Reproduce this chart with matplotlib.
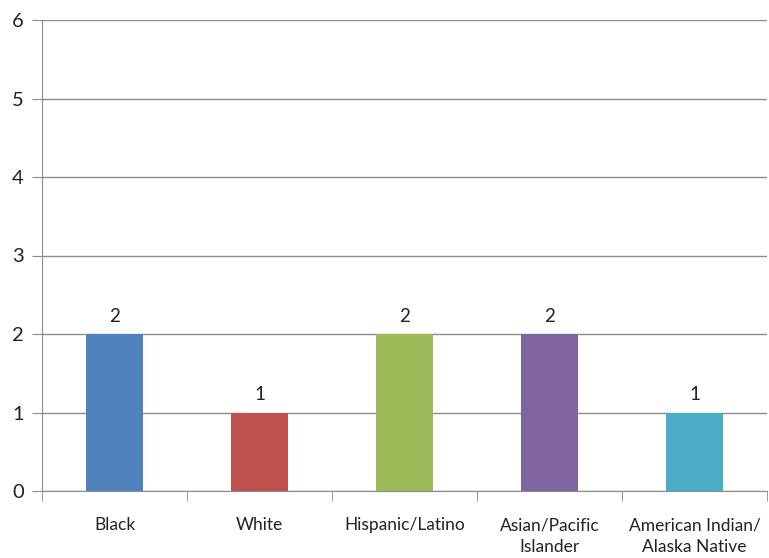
import matplotlib.pyplot as plt
import numpy as np

categories = ["Black", "White", "Hispanic/Latino", "Asian/Pacific\nIslander", "American Indian/\nAlaska Native"]
values = [2, 1, 2, 2, 1]
colors = ["#4f81bd", "#c0504d", "#9bbb59", "#8064a2", "#4bacc6"]

plt.rcParams['font.family'] = ['Lato', 'DejaVu Sans']

fig = plt.figure(figsize=(7.69, 5.58), dpi=100)
ax = fig.add_axes([42/769, 67/558, 725/769, 471/558])

x = np.arange(len(categories))
bars = ax.bar(x, values, width=0.39, color=colors, zorder=3)
for xi, v in zip(x, values):
    ax.text(xi, v + 0.12, str(v), ha='center', va='bottom', fontsize=13.5, color='#222222')

ax.set_xlim(-0.5, len(categories) - 0.5)
ax.set_ylim(0, 6)
ax.set_yticks(range(0, 7))
ax.yaxis.grid(True, color='#8c8c8c', linewidth=1, zorder=0)
ax.set_xticks(x)
ax.set_xticklabels(categories, fontsize=12.5, color='#222222', linespacing=1.45)
ax.set_xticks(np.arange(-0.5, len(categories)), minor=True)
ax.tick_params(axis='x', which='major', length=0, pad=19)
ax.tick_params(axis='x', which='minor', length=7, color='#8c8c8c')
ax.tick_params(axis='y', length=7, color='#8c8c8c', labelsize=14.5, labelcolor='#222222', pad=6)

for side in ['top', 'right']:
    ax.spines[side].set_visible(False)
for side in ['left', 'bottom']:
    ax.spines[side].set_color('#8c8c8c')

fig.savefig('out.png', dpi=100)
